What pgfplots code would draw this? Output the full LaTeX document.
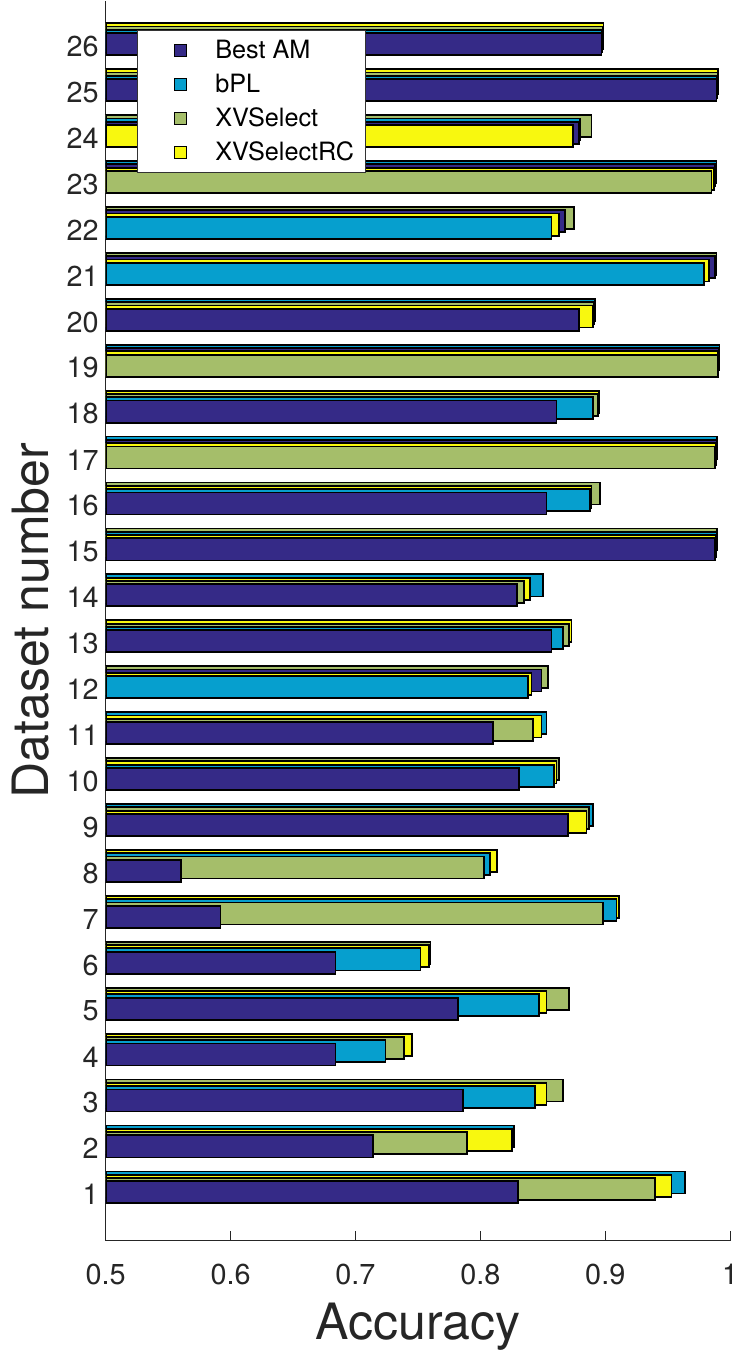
\documentclass[border=0pt]{standalone}
\usepackage{fontspec}
\setmainfont{TeX Gyre Heros}
\usepackage{pgfplots}
\usepackage{pgfplotstable}
\pgfplotsset{compat=1.18}

\definecolor{amc}{HTML}{352A87}
\definecolor{bplc}{HTML}{069FCE}
\definecolor{xvc}{HTML}{A5BE6A}
\definecolor{xvrc}{HTML}{F8F80F}

% accuracy per dataset, and the rank of each method within the dataset
% (0 = lowest accuracy, drawn in front; 3 = highest, drawn at the back)
\pgfplotstableread{
ds am    bpl    xv     xvrc   kam kbpl kxv kxvrc
1  0.830  0.964  0.940  0.953  0  3  1  2
2  0.714  0.827  0.789  0.825  0  3  1  2
3  0.786  0.844  0.866  0.853  0  1  3  2
4  0.684  0.724  0.739  0.745  0  1  2  3
5  0.782  0.847  0.871  0.853  0  1  3  2
6  0.684  0.752  0.760  0.759  0  1  3  2
7  0.592  0.909  0.898  0.911  0  2  1  3
8  0.560  0.808  0.803  0.813  0  2  1  3
9  0.870  0.890  0.887  0.885  0  3  2  1
10 0.831  0.859  0.863  0.861  0  1  3  2
11 0.810  0.853  0.842  0.849  0  3  1  2
12 0.849  0.838  0.854  0.841  2  0  3  1
13 0.857  0.866  0.871  0.873  0  1  2  3
14 0.829  0.850  0.835  0.840  0  3  1  2
15 0.988  0.989  0.9895 0.9885 0  2  3  1
16 0.853  0.888  0.896  0.889  0  1  3  2
17 0.989  0.9895 0.988  0.9885 2  3  0  1
18 0.861  0.890  0.894  0.895  0  1  2  3
19 0.991  0.9915 0.990  0.9905 2  3  0  1
20 0.879  0.892  0.891  0.890  0  3  2  1
21 0.988  0.979  0.989  0.983  2  0  3  1
22 0.868  0.857  0.875  0.863  2  0  3  1
23 0.988  0.989  0.985  0.987  2  3  0  1
24 0.879  0.880  0.889  0.874  1  2  3  0
25 0.989  0.9895 0.990  0.9905 0  1  2  3
26 0.897  0.8975 0.898  0.8985 0  1  2  3
}\acc

% one layer of bars: method column #1, its rank column #2, fill #3, rank window #4
\newcommand\layer[4]{%
  \addplot[lay, fill=#3, restrict expr to domain={\thisrow{#2}}{#4}]
    table[x=#1, y expr={\thisrow{ds}+0.05+0.072*\thisrow{#2}}] {\acc};
}

\begin{document}
\begin{tikzpicture}
\begin{axis}[
  scale only axis,
  width=312pt, height=619.5pt,
  xmin=0.5, xmax=1, ymin=0, ymax=27,
  axis x line*=bottom, axis y line*=left,
  axis line style={line width=0.6pt, black!85},
  xtick={0.5,0.6,0.7,0.8,0.9,1},
  xticklabels={0.5,0.6,0.7,0.8,0.9,1},
  ytick={1,...,26},
  tick align=inside,
  major tick length=5pt,
  xtick style={line width=0.6pt, black!85},
  ytick style={draw=none},
  /pgf/number format/assume math mode=true,
  tick label style={font=\fontsize{14.4}{16}\selectfont, text=black!85},
  xticklabel style={yshift=-8pt},
  xlabel={Accuracy},
  ylabel={Dataset number},
  label style={font=\fontsize{25}{28}\selectfont, text=black!85},
  xlabel style={at={(axis description cs:0.5,0)}, anchor=center, yshift=-43pt},
  ylabel style={at={(axis description cs:-0.1202,0.5)}, anchor=center, inner ysep=6pt},
  lay/.style={xbar, bar width=0.48, bar shift=0pt, draw=black,
              line width=0.9pt, forget plot},
  legend style={at={(axis description cs:0.0497,0.976)}, anchor=north west,
    draw=black!80, line width=0.5pt, fill=white,
    font=\fontsize{12.6}{15}\selectfont,
    inner xsep=3.5pt, inner ysep=2.5pt, row sep=2.2pt},
  legend cell align=left,
  legend image code/.code={%
    \path (-18pt,0) (15pt,0);
    \draw[#1, draw=black, line width=0.6pt] (-3pt,-3pt) rectangle (3pt,3pt);},
]
% back to front: highest accuracy first
\layer{am}{kam}{amc}{2.5:3.5}
\layer{bpl}{kbpl}{bplc}{2.5:3.5}
\layer{xv}{kxv}{xvc}{2.5:3.5}
\layer{xvrc}{kxvrc}{xvrc}{2.5:3.5}
\layer{am}{kam}{amc}{1.5:2.5}
\layer{bpl}{kbpl}{bplc}{1.5:2.5}
\layer{xv}{kxv}{xvc}{1.5:2.5}
\layer{xvrc}{kxvrc}{xvrc}{1.5:2.5}
\layer{am}{kam}{amc}{0.5:1.5}
\layer{bpl}{kbpl}{bplc}{0.5:1.5}
\layer{xv}{kxv}{xvc}{0.5:1.5}
\layer{xvrc}{kxvrc}{xvrc}{0.5:1.5}
\layer{am}{kam}{amc}{-0.5:0.5}
\layer{bpl}{kbpl}{bplc}{-0.5:0.5}
\layer{xv}{kxv}{xvc}{-0.5:0.5}
\layer{xvrc}{kxvrc}{xvrc}{-0.5:0.5}

\addlegendimage{fill=amc}\addlegendentry{Best AM}
\addlegendimage{fill=bplc}\addlegendentry{bPL}
\addlegendimage{fill=xvc}\addlegendentry{XVSelect}
\addlegendimage{fill=xvrc}\addlegendentry{XVSelectRC}
\end{axis}
\end{tikzpicture}
\end{document}
